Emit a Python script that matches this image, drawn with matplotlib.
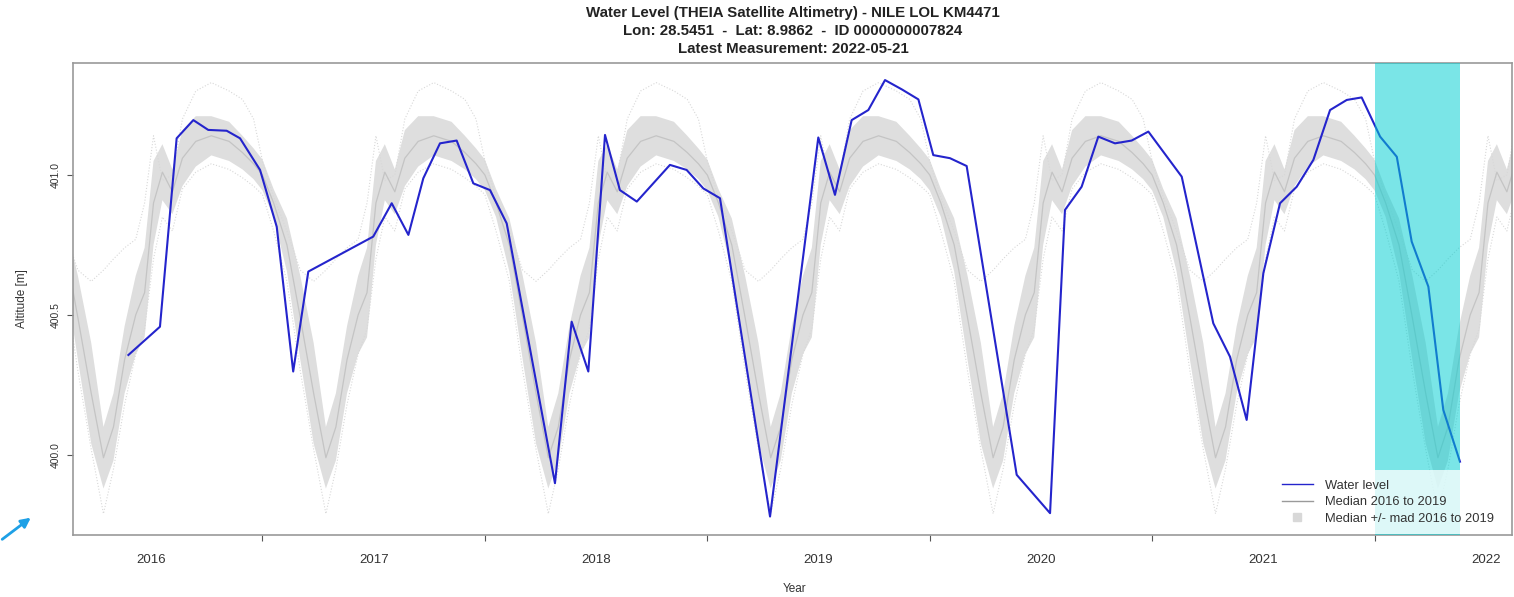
import numpy as np
import matplotlib
matplotlib.use('Agg')
import matplotlib.pyplot as plt
from matplotlib.lines import Line2D

plt.rcParams['font.family'] = ['Liberation Sans', 'DejaVu Sans']

# water level time series (decimal year, altitude in m)
wl_time = [2016.397, 2016.539, 2016.614, 2016.689, 2016.756, 2016.839, 2016.899, 2016.989,
           2017.064, 2017.138, 2017.206, 2017.498, 2017.581, 2017.656, 2017.723, 2017.798,
           2017.873, 2017.948, 2018.023, 2018.098, 2018.315, 2018.390, 2018.465, 2018.540,
           2018.607, 2018.683, 2018.832, 2018.907, 2018.982, 2019.057, 2019.282, 2019.499,
           2019.574, 2019.649, 2019.724, 2019.799, 2019.874, 2019.949, 2020.016, 2020.091,
           2020.166, 2020.391, 2020.541, 2020.608, 2020.683, 2020.758, 2020.833, 2020.908,
           2020.983, 2021.133, 2021.275, 2021.350, 2021.425, 2021.500, 2021.575, 2021.650,
           2021.725, 2021.800, 2021.875, 2021.942, 2022.025, 2022.100, 2022.167, 2022.242,
           2022.309, 2022.384]
wl_alt = [400.357, 400.458, 401.131, 401.196, 401.161, 401.158, 401.131, 401.018,
          400.815, 400.298, 400.655, 400.780, 400.899, 400.786, 400.988, 401.113,
          401.123, 400.970, 400.946, 400.827, 399.899, 400.476, 400.298, 401.143,
          400.946, 400.905, 401.036, 401.018, 400.952, 400.917, 399.780, 401.134,
          400.929, 401.196, 401.232, 401.339, 401.306, 401.270, 401.071, 401.060,
          401.032, 399.929, 399.792, 400.875, 400.958, 401.137, 401.113, 401.123,
          401.155, 400.994, 400.470, 400.351, 400.125, 400.649, 400.899, 400.958,
          401.054, 401.232, 401.268, 401.277, 401.137, 401.065, 400.762, 400.601,
          400.161, 399.976]

# 2016-2019 climatology by fraction of year
clim_frac = [0.00, 0.05, 0.11, 0.17, 0.23, 0.285, 0.33, 0.38, 0.43, 0.47,
             0.51, 0.55, 0.595, 0.64, 0.70, 0.77, 0.85, 0.91, 0.96]
clim_median = [401.00, 400.90, 400.75, 400.49, 400.22, 399.99, 400.10, 400.34, 400.50, 400.58,
               400.90, 401.01, 400.94, 401.06, 401.12, 401.14, 401.12, 401.08, 401.04]
clim_mad = [0.055, 0.05, 0.095, 0.15, 0.18, 0.11, 0.12, 0.12, 0.14, 0.16,
            0.15, 0.10, 0.08, 0.10, 0.09, 0.07, 0.07, 0.06, 0.055]
clim_upper = [401.05, 400.92, 400.80, 400.66, 400.62, 400.66, 400.70, 400.74, 400.77, 400.90,
              401.14, 400.98, 401.00, 401.20, 401.30, 401.33, 401.30, 401.27, 401.20]
clim_lower = [400.93, 400.80, 400.62, 400.30, 400.02, 399.79, 399.95, 400.18, 400.36, 400.45,
              400.70, 400.85, 400.80, 400.95, 401.01, 401.04, 401.02, 400.99, 400.96]

years = [2016, 2017, 2018, 2019, 2020, 2021, 2022]
latest_start = 2022.0
latest_end = 2022.384

# repeat the climatology for every year shown
cyc_years = range(2015, 2024)
ct = np.concatenate([y + np.array(clim_frac) for y in cyc_years])
cmed = np.tile(clim_median, len(cyc_years))
cmad = np.tile(clim_mad, len(cyc_years))
cup = np.tile(clim_upper, len(cyc_years))
clo = np.tile(clim_lower, len(cyc_years))

fig = plt.figure(figsize=(15.14, 5.97), dpi=100)
ax = fig.add_axes([73/1514, 1-535/597, (1512-73)/1514, (535-63)/597])

ax.fill_between(ct, cmed - cmad, cmed + cmad, color='#dedede', linewidth=0, zorder=1)
ax.plot(ct, cup, color='#d8d8d8', linewidth=0.8, linestyle=':', zorder=2)
ax.plot(ct, clo, color='#d8d8d8', linewidth=0.8, linestyle=':', zorder=2)
ax.plot(ct, cmed, color='#c4c4c4', linewidth=0.9, zorder=2)
ax.plot(wl_time, wl_alt, color='#2424cc', linewidth=1.5, zorder=3)

# current year highlight
ax.axvspan(latest_start, latest_end, color='#00ced1', alpha=0.52, linewidth=0, zorder=4)

ax.set_xlim(2016.148, 2022.618)
ax.set_ylim(399.714, 401.40)

ax.set_xticks(years[1:])
ax.set_xticklabels([])
ax.set_xticks([y + 0.5 for y in years], minor=True)
ax.set_xticklabels([str(y) for y in years], minor=True)
ax.tick_params(axis='x', which='major', length=4, color='#555555', direction='out')
ax.tick_params(axis='x', which='minor', length=0, pad=14, labelsize=9.5, labelcolor='#333333')

ax.set_yticks([400.0, 400.5, 401.0])
ax.set_yticklabels(['400.0', '400.5', '401.0'])
ax.tick_params(axis='y', length=4, color='#555555', labelsize=7.5, labelcolor='#333333',
               labelrotation=90, pad=5)
for lab in ax.get_yticklabels():
    lab.set_va('center')

for sp in ax.spines.values():
    sp.set_color('#999999')
    sp.set_linewidth(1.2)

handles = [Line2D([], [], color='#2424cc', linewidth=1),
           Line2D([], [], color='#9a9a9a', linewidth=1),
           Line2D([], [], color='#d8d8d8', marker='s', markersize=6, linestyle='none')]
leg = ax.legend(handles, ['Water level', 'Median 2016 to 2019', 'Median +/- mad 2016 to 2019'],
                loc='lower right', bbox_to_anchor=(0.995, 0.0), borderaxespad=0.1,
                fontsize=9.3, frameon=True, handlelength=2.4, labelspacing=0.35,
                borderpad=0.7, handletextpad=1.0)
leg.get_frame().set_facecolor('white')
leg.get_frame().set_alpha(0.75)
leg.get_frame().set_edgecolor('none')
leg.set_zorder(5)
for t in leg.get_texts():
    t.set_color('#333333')

title_lines = ['Water Level (THEIA Satellite Altimetry) - NILE LOL KM4471',
               'Lon: 28.5451  -  Lat: 8.9862  -  ID 0000000007824',
               'Latest Measurement: 2022-05-21']
for i, line in enumerate(title_lines):
    fig.text(793/1514, 1-(13 + 18*i)/597, line, ha='center', va='center',
             fontsize=10.8, fontweight='bold', color='#222222')

fig.text(795/1514, 1-589/597, 'Year', ha='center', va='center', fontsize=8.5, color='#333333')
fig.text(22/1514, 1-299/597, 'Altitude [m]', ha='center', va='center', rotation=90,
         fontsize=8.5, color='#333333')

ax.annotate('', xy=(33, 597-516), xytext=(0, 597-541), xycoords='figure pixels',
            textcoords='figure pixels', annotation_clip=False,
            arrowprops=dict(arrowstyle='-|>', color='#1ea0e6', lw=2, mutation_scale=14))

fig.savefig('out.png', dpi=100)
